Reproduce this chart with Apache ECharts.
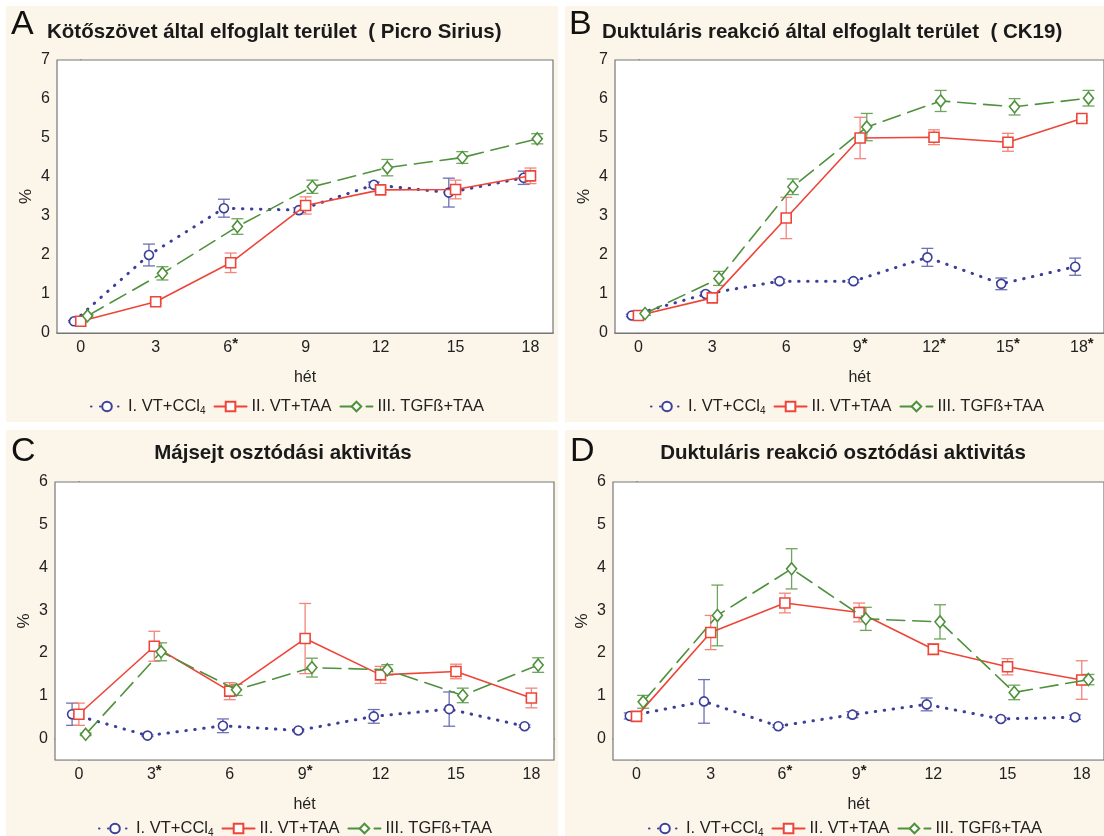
<!DOCTYPE html>
<html>
<head>
<meta charset="utf-8">
<script src="https://cdn.jsdelivr.net/npm/echarts@6/dist/echarts.min.js"></script>
<style>
html, body { margin: 0; padding: 0; background: #fff; }
#main { width: 1104px; height: 836px; }
</style>
</head>
<body>
<div id="main"></div>
<script>
// weeks (hét) and the three groups
var weeks = [0, 3, 6, 9, 12, 15, 18];
var seriesNames = ['I. VT+CCl4', 'II. VT+TAA', 'III. TGFß+TAA'];

// A - Kötőszövet által elfoglalt terület (Picro Sirius)
var labelsA = ['0', '3', '6*', '9', '12', '15', '18'];
var ccl4A = [0.30, 2.00, 3.20, 3.15, 3.80, 3.60, 3.98];
var ccl4ErrA = [0.02, 0.28, 0.23, 0.06, 0.07, 0.37, 0.17];
var taaA = [0.30, 0.80, 1.80, 3.27, 3.67, 3.68, 4.03];
var taaErrA = [0.02, 0.03, 0.25, 0.22, 0.07, 0.24, 0.20];
var tgfA = [0.44, 1.53, 2.73, 3.75, 4.24, 4.50, 4.98];
var tgfErrA = [0.03, 0.17, 0.20, 0.17, 0.21, 0.15, 0.13];

// B - Duktuláris reakció által elfoglalt terület (CK19)
var labelsB = ['0', '3', '6', '9*', '12*', '15*', '18*'];
var ccl4B = [0.45, 1.00, 1.33, 1.33, 1.94, 1.26, 1.70];
var ccl4ErrB = [0.03, 0.05, 0.05, 0.04, 0.23, 0.15, 0.22];
var taaB = [0.45, 0.90, 2.95, 5.00, 5.02, 4.89, 5.50];
var taaErrB = [0.03, 0.05, 0.53, 0.53, 0.19, 0.23, 0.05];
var tgfB = [0.50, 1.40, 3.75, 5.28, 5.95, 5.80, 6.02];
var tgfErrB = [0.05, 0.18, 0.20, 0.35, 0.27, 0.21, 0.20];

// C - Májsejt osztódási aktivitás
var labelsC = ['0', '3*', '6', '9*', '12', '15', '18'];
var ccl4C = [0.57, 0.07, 0.30, 0.19, 0.52, 0.69, 0.29];
var ccl4ErrC = [0.26, 0.02, 0.16, 0.03, 0.16, 0.40, 0.03];
var taaC = [0.57, 2.16, 1.11, 2.34, 1.49, 1.57, 0.95];
var taaErrC = [0.26, 0.35, 0.20, 0.82, 0.20, 0.17, 0.23];
var tgfC = [0.10, 2.03, 1.14, 1.66, 1.61, 1.01, 1.72];
var tgfErrC = [0.03, 0.21, 0.13, 0.22, 0.12, 0.17, 0.17];

// D - Duktuláris reakció osztódási aktivitás
var labelsD = ['0', '3', '6*', '9*', '12', '15', '18'];
var ccl4D = [0.53, 0.87, 0.29, 0.56, 0.80, 0.46, 0.50];
var ccl4ErrD = [0.07, 0.51, 0.03, 0.07, 0.15, 0.03, 0.05];
var taaD = [0.52, 2.48, 3.17, 2.95, 2.09, 1.68, 1.37];
var taaErrD = [0.05, 0.40, 0.23, 0.22, 0.13, 0.19, 0.45];
var tgfD = [0.86, 2.88, 3.97, 2.80, 2.73, 1.08, 1.38];
var tgfErrD = [0.15, 0.71, 0.47, 0.27, 0.40, 0.17, 0.12];

var chart = echarts.init(document.getElementById('main'));

var FONT = '"Liberation Sans", Arial, sans-serif';
var colors = ['#3c3f98', '#ee4538', '#4f913c'];
var errColors = ['#6d70b5', '#f2857c', '#6fa55d'];
var lineTypes = [[0.5, 8.5], 'solid', [18, 8]];
var lineWidths = [3, 1.6, 1.6];
var symbols = ['circle', 'rect', 'diamond'];
var symbolSizes = [9, 10, [10, 12]];
var xShift = [-0.27, 0, 0.27];

var panels = [
    { labels: labelsA, means: [ccl4A, taaA, tgfA], errs: [ccl4ErrA, taaErrA, tgfErrA],
      grid: { left: 57, top: 60, width: 496, height: 273 }, yMin: 0, yMax: 7, legendLeft: 85, legendTop: 393 },
    { labels: labelsB, means: [ccl4B, taaB, tgfB], errs: [ccl4ErrB, taaErrB, tgfErrB],
      grid: { left: 615, top: 60, width: 497, height: 273 }, yMin: 0, yMax: 7, legendLeft: 645, legendTop: 393 },
    { labels: labelsC, means: [ccl4C, taaC, tgfC], errs: [ccl4ErrC, taaErrC, tgfErrC],
      grid: { left: 55, top: 482, width: 499, height: 278 }, yMin: -0.5, yMax: 6, legendLeft: 93, legendTop: 815 },
    { labels: labelsD, means: [ccl4D, taaD, tgfD], errs: [ccl4ErrD, taaErrD, tgfErrD],
      grid: { left: 613, top: 482, width: 499, height: 278 }, yMin: -0.5, yMax: 6, legendLeft: 643, legendTop: 815 }
];

var grids = [], xAxes = [], yAxes = [], series = [], legends = [];

function errRenderer(color) {
    return function (params, api) {
        var x = api.value(0);
        var top = api.coord([x, api.value(2)]);
        var bot = api.coord([x, api.value(1)]);
        var w = 6;
        var st = { stroke: color, lineWidth: 1.3 };
        return {
            type: 'group',
            children: [
                { type: 'line', shape: { x1: top[0], y1: top[1], x2: bot[0], y2: bot[1] }, style: st },
                { type: 'line', shape: { x1: top[0] - w, y1: top[1], x2: top[0] + w, y2: top[1] }, style: st },
                { type: 'line', shape: { x1: bot[0] - w, y1: bot[1], x2: bot[0] + w, y2: bot[1] }, style: st }
            ]
        };
    };
}

panels.forEach(function (p, pi) {
    grids.push(Object.assign({
        show: true, backgroundColor: '#fff', borderColor: '#777', borderWidth: 1.2, z: 2
    }, p.grid));

    xAxes.push({
        type: 'value', gridIndex: pi, min: -0.95, max: 18.9,
        name: 'hét', nameLocation: 'middle', nameGap: 37,
        nameTextStyle: { fontFamily: FONT, fontSize: 16, color: '#222' },
        axisLine: { lineStyle: { color: '#555', width: 1.5 } },
        axisTick: { show: true, inside: true, length: 3, customValues: weeks, lineStyle: { color: '#555' } },
        splitLine: { show: false },
        axisLabel: {
            customValues: weeks, margin: 5, color: '#222', fontFamily: FONT, fontSize: 16,
            formatter: function (v) {
                var lab = p.labels[weeks.indexOf(v)];
                if (lab == null) return '';
                if (lab.charAt(lab.length - 1) === '*') {
                    return '{n|' + lab.slice(0, -1) + '}{s|*}';
                }
                return '{n|' + lab + '}';
            },
            rich: {
                n: { fontFamily: FONT, fontSize: 16, lineHeight: 18, color: '#222', verticalAlign: 'bottom' },
                s: { fontFamily: FONT, fontSize: 15, lineHeight: 14, fontWeight: 'bold', color: '#222',
                     verticalAlign: 'bottom', padding: [0, 0, 5, 0] }
            }
        }
    });

    var yAxis = {
        type: 'value', gridIndex: pi, min: p.yMin, max: p.yMax,
        name: '%', nameLocation: 'middle', nameGap: 22,
        nameTextStyle: { fontFamily: FONT, fontSize: 17, color: '#222' },
        axisLine: { show: true, lineStyle: { color: '#555', width: 1.5 } },
        axisTick: { show: false },
        splitLine: { show: true, lineStyle: { color: '#dadada', width: 1 } },
        axisLabel: { margin: 7, color: '#222', fontFamily: FONT, fontSize: 16, showMinLabel: p.yMin >= 0 }
    };
    if (p.yMin >= 0) yAxis.interval = 1; else yAxis.splitNumber = 6;
    yAxes.push(yAxis);

    for (var s = 0; s < 3; s++) {
        var pts = [], bars = [];
        for (var i = 0; i < weeks.length; i++) {
            var x = weeks[i] + xShift[s];
            pts.push([x, p.means[s][i]]);
            bars.push([x, p.means[s][i] - p.errs[s][i], p.means[s][i] + p.errs[s][i]]);
        }
        series.push({
            type: 'custom', xAxisIndex: pi, yAxisIndex: pi, z: 3 + s,
            renderItem: errRenderer(errColors[s]),
            encode: { x: 0, y: [1, 2] },
            data: bars, silent: true
        });
        series.push({
            name: seriesNames[s], type: 'line', xAxisIndex: pi, yAxisIndex: pi, z: 6 + s,
            data: pts, symbol: symbols[s], symbolSize: symbolSizes[s], showAllSymbol: true,
            lineStyle: { color: colors[s], width: lineWidths[s], type: lineTypes[s], cap: 'round' },
            itemStyle: { color: '#fff', borderColor: colors[s], borderWidth: 1.6 },
            emphasis: { disabled: true }, animation: false
        });
    }

    legends.push({
        data: seriesNames, left: p.legendLeft, top: p.legendTop,
        itemWidth: 32, itemHeight: 12, itemGap: 8, selectedMode: false,
        textStyle: {
            fontFamily: FONT, fontSize: 16.5, color: '#222',
            rich: {
                t: { fontFamily: FONT, fontSize: 16.5, color: '#222' },
                sub: { fontFamily: FONT, fontSize: 10, color: '#222', verticalAlign: 'bottom', padding: [9, 0, 0, 0] }
            }
        },
        formatter: function (name) {
            if (name.slice(-4) === 'CCl4') return '{t|' + name.slice(0, -1) + '}{sub|4}';
            return '{t|' + name + '}';
        }
    });
});

// panel backgrounds, letters and titles
var cream = '#fcf5e9';
var TFONT = 'bold 20.5px ' + FONT;
var graphics = [
    { type: 'rect', z: -10, shape: { x: 6, y: 6, width: 552, height: 416 }, style: { fill: cream } },
    { type: 'rect', z: -10, shape: { x: 565, y: 6, width: 545, height: 416 }, style: { fill: cream } },
    { type: 'rect', z: -10, shape: { x: 6, y: 430, width: 552, height: 410 }, style: { fill: cream } },
    { type: 'rect', z: -10, shape: { x: 565, y: 430, width: 545, height: 410 }, style: { fill: cream } },
    { type: 'text', x: 11, y: 25, style: { text: 'A', font: '34px ' + FONT, fill: '#111', verticalAlign: 'middle' } },
    { type: 'text', x: 569, y: 25, style: { text: 'B', font: '34px ' + FONT, fill: '#111', verticalAlign: 'middle' } },
    { type: 'text', x: 11, y: 452, style: { text: 'C', font: '34px ' + FONT, fill: '#111', verticalAlign: 'middle' } },
    { type: 'text', x: 570, y: 452, style: { text: 'D', font: '34px ' + FONT, fill: '#111', verticalAlign: 'middle' } },
    { type: 'text', x: 47, y: 32, style: { text: 'Kötőszövet által elfoglalt terület  ( Picro Sirius)', font: TFONT, fill: '#1a1a1a', verticalAlign: 'middle' } },
    { type: 'text', x: 602, y: 32, style: { text: 'Duktuláris reakció által elfoglalt terület  ( CK19)', font: TFONT, fill: '#1a1a1a', verticalAlign: 'middle' } },
    { type: 'text', x: 283, y: 453, style: { text: 'Májsejt osztódási aktivitás', font: TFONT, fill: '#1a1a1a', align: 'center', verticalAlign: 'middle' } },
    { type: 'text', x: 843, y: 453, style: { text: 'Duktuláris reakció osztódási aktivitás', font: TFONT, fill: '#1a1a1a', align: 'center', verticalAlign: 'middle' } }
];

chart.setOption({
    backgroundColor: '#fff',
    animation: false,
    grid: grids,
    xAxis: xAxes,
    yAxis: yAxes,
    legend: legends,
    graphic: { elements: graphics },
    series: series
});
</script>
</body>
</html>
